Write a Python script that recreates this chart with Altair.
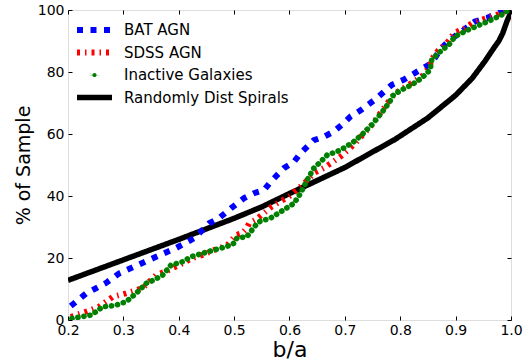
import altair as alt
import pandas as pd

# ---- data ----
series_names = ["BAT AGN", "SDSS AGN", "Inactive Galaxies", "Randomly Dist Spirals"]
series_colors = ["#0000ff", "#ff0000", "#008000", "#000000"]

bat_x = [0.205, 0.233, 0.269, 0.292, 0.326, 0.359, 0.395, 0.428, 0.455, 0.473, 0.494, 0.518,
         0.536, 0.554, 0.566, 0.590, 0.608, 0.620, 0.644, 0.662, 0.680, 0.698, 0.710, 0.729,
         0.758, 0.785, 0.806, 0.821, 0.836, 0.857, 0.872, 0.890, 0.911, 0.935, 0.957, 0.975, 0.990]
bat_y = [4.5, 8.6, 12.0, 15.0, 17.7, 20.4, 23.2, 26.4, 31.2, 32.9, 36.0, 39.3,
         40.9, 41.9, 44.6, 49.0, 51.0, 53.8, 58.0, 59.1, 60.8, 63.5, 65.6, 67.7,
         71.6, 75.9, 77.5, 79.1, 80.7, 82.9, 87.2, 90.4, 93.1, 96.3, 97.4, 99.0, 100.0]

sdss_x = [0.205, 0.233, 0.256, 0.281, 0.305, 0.335, 0.359, 0.382, 0.407, 0.425, 0.443, 0.464,
          0.488, 0.503, 0.514, 0.523, 0.527, 0.539, 0.568, 0.600, 0.626, 0.645, 0.662, 0.692,
          0.716, 0.731, 0.749, 0.767, 0.779, 0.790, 0.803, 0.821, 0.839, 0.852, 0.860, 0.869,
          0.885, 0.897, 0.915, 0.930, 0.960, 0.980, 0.995]
sdss_y = [1.0, 2.7, 4.3, 7.5, 8.6, 10.3, 14.5, 16.1, 18.3, 20.0, 21.0, 22.6,
          24.2, 27.4, 28.0, 29.6, 31.2, 32.3, 36.6, 40.0, 44.0, 47.5, 49.0, 52.7,
          56.5, 59.5, 63.0, 67.5, 70.5, 73.0, 74.5, 76.5, 78.5, 81.5, 85.0, 87.0,
          89.5, 92.6, 94.0, 95.8, 97.6, 98.8, 100.0]

inact_x = [0.207, 0.242, 0.263, 0.283, 0.305, 0.323, 0.341, 0.355, 0.371, 0.386, 0.407, 0.422,
           0.443, 0.464, 0.487, 0.500, 0.505, 0.523, 0.530, 0.539, 0.545, 0.566, 0.584, 0.608,
           0.620, 0.632, 0.644, 0.656, 0.668, 0.692, 0.716, 0.731, 0.749, 0.767, 0.781, 0.788,
           0.803, 0.821, 0.839, 0.854, 0.857, 0.869, 0.888, 0.899, 0.924, 0.945, 0.966, 0.984, 0.995]
inact_y = [0.5, 1.6, 4.3, 4.6, 5.9, 8.6, 11.8, 12.9, 14.5, 17.7, 18.8, 20.4,
           21.5, 22.6, 23.7, 24.8, 26.4, 26.9, 28.5, 30.6, 31.7, 32.9, 34.9, 37.6,
           40.9, 45.2, 49.0, 51.0, 53.2, 54.8, 57.5, 59.8, 63.0, 67.0, 70.4, 72.7,
           74.3, 75.9, 78.1, 80.7, 84.0, 86.1, 88.8, 91.5, 93.7, 95.3, 96.9, 98.5, 100.0]

rand_x = [0.20, 0.25, 0.30, 0.35, 0.40, 0.45, 0.50, 0.55, 0.60, 0.65, 0.70, 0.735, 0.79,
          0.85, 0.90, 0.93, 0.953, 0.97, 0.978, 0.985, 0.993, 0.998, 1.0]
rand_y = [12.8, 16.1, 19.4, 22.7, 26.0, 29.4, 32.8, 36.5, 40.8, 45.0, 49.2, 52.7, 58.2,
          65.2, 72.5, 78.0, 83.5, 88.0, 90.0, 92.5, 96.5, 98.5, 100.0]

x_ticks = [0.2, 0.3, 0.4, 0.5, 0.6, 0.7, 0.8, 0.9, 1.0]
y_ticks = [0, 20, 40, 60, 80, 100]

# ---- styles ----
dashes = [[6, 7.5], [3, 5, 1.5, 5], [0.1, 6], [1, 0]]
widths = [6, 5.5, 4, 6.5]

rows = []
for name, xs, ys in [(series_names[0], bat_x, bat_y), (series_names[1], sdss_x, sdss_y),
                     (series_names[2], inact_x, inact_y), (series_names[3], rand_x, rand_y)]:
    for i, (a, b) in enumerate(zip(xs, ys)):
        rows.append({"x": a, "y": b, "series": name, "idx": i})
df = pd.DataFrame(rows)

FONT = "DejaVu Sans"
green = series_names[2]
dot_path = "M-0.12,0a0.12,0.12 0 1,0 0.24,0a0.12,0.12 0 1,0 -0.24,0"

legend = alt.Legend(
    title=None, orient="none", legendX=6, legendY=12, padding=0,
    symbolType=alt.ExprRef(f"datum.value === '{green}' ? '{dot_path}' : 'stroke'"),
    symbolFillColor=alt.ExprRef(f"datum.value === '{green}' ? '#008000' : 'transparent'"),
    symbolSize=1225, labelFontSize=15, labelFont=FONT,
    labelColor="black", labelOffset=9, rowPadding=6.5, clipHeight=16, labelLimit=400,
)

color = alt.Color("series:N", scale=alt.Scale(domain=series_names, range=series_colors), legend=legend)
sdash = alt.StrokeDash("series:N", scale=alt.Scale(domain=series_names, range=dashes), legend=legend)
swidth = alt.StrokeWidth("series:N", scale=alt.Scale(domain=series_names, range=widths), legend=legend)

xscale = alt.Scale(domain=[0.2, 1.0], nice=False, zero=False)
yscale = alt.Scale(domain=[0, 100], nice=False)

common_axis = dict(offset=-4, tickSize=4, domain=False, grid=False, tickColor="black",
                   tickWidth=1, labelColor="black", labelFontSize=14, labelFont=FONT,
                   labelFlush=False, labelOverlap=False, titleFont=FONT,
                   titleFontWeight="normal", titleColor="black")

x_bottom = alt.Axis(orient="bottom", values=x_ticks, format=".1f", title="b/a",
                    labelPadding=3, titlePadding=2, titleFontSize=22, **common_axis)
y_left = alt.Axis(orient="left", values=y_ticks, format="d", title="% of Sample",
                  labelPadding=4, titlePadding=4, titleFontSize=19, **common_axis)
x_top = alt.Axis(orient="top", values=x_ticks, labels=False, title=None, offset=-4, tickSize=4,
                 domain=False, grid=False, tickColor="black", tickWidth=1)
y_right = alt.Axis(orient="right", values=y_ticks, labels=False, title=None, offset=-4, tickSize=4,
                   domain=False, grid=False, tickColor="black", tickWidth=1)

base = alt.Chart(df)

black_layer = base.transform_filter(alt.datum.series == series_names[3]).mark_line(
    strokeCap="butt", clip=True).encode(
    x=alt.X("x:Q", scale=xscale, axis=x_bottom),
    y=alt.Y("y:Q", scale=yscale, axis=y_left),
    color=color, strokeDash=sdash, strokeWidth=swidth, order="idx:Q")

agn_layer = base.transform_filter(
    (alt.datum.series == series_names[0]) | (alt.datum.series == series_names[1])).mark_line(
    strokeCap="butt", clip=True).encode(
    x=alt.X("x:Q", scale=xscale, axis=None),
    y=alt.Y("y:Q", scale=yscale, axis=None),
    color=color, strokeDash=sdash, strokeWidth=swidth, order="idx:Q")

green_layer = base.transform_filter(alt.datum.series == green).mark_line(
    strokeCap="round", clip=True).encode(
    x=alt.X("x:Q", scale=xscale, axis=x_top),
    y=alt.Y("y:Q", scale=yscale, axis=y_right),
    color=color, strokeDash=sdash, strokeWidth=swidth, order="idx:Q")

chart = alt.layer(black_layer, agn_layer, green_layer).resolve_axis(
    x="independent", y="independent").properties(
    width=443, height=310,
    autosize=alt.AutoSizeParams(type="none"),
    padding={"left": 68, "top": 10, "right": 20, "bottom": 44},
).configure_view(stroke="black", strokeWidth=1).configure(background="white")

chart.save("out.html", embed_options={"renderer": "svg", "actions": False})
